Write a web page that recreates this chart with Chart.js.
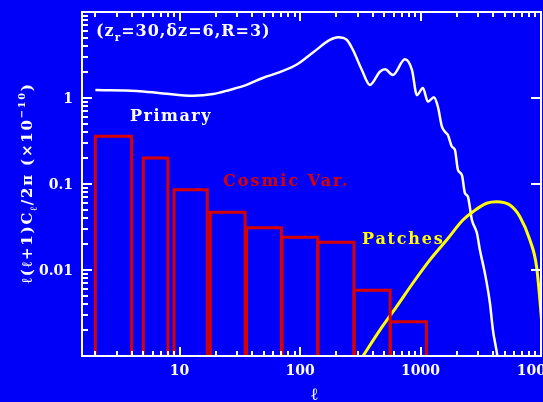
<!DOCTYPE html>
<html>
<head>
<meta charset="utf-8">
<script src="https://cdn.jsdelivr.net/npm/chart.js@4/dist/chart.umd.min.js"></script>
<style>
  html, body { margin: 0; padding: 0; background: #0000fa; }
  #wrap { width: 543px; height: 402px; position: relative; }
</style>
</head>
<body>
<div id="wrap"><canvas id="c" width="543" height="402"></canvas></div>
<script>
// Axis ranges (multipole l, power in units of 1e-10)
const xMin = 1.55, xMax = 10000;
const yMin = 0.001, yMax = 10;

// Tick labels
const xTickVals = [10, 100, 1000, 10000];
const xTickLabels = ['10', '100', '1000', '10000'];
const yTickVals = [1, 0.1, 0.01];
const yTickLabels = ['1', '0.1', '0.01'];

// Cosmic variance boxes: multipole bin edges and box heights
const binLo = [2, 5, 9, 18, 36, 71, 141, 281, 561];
const binHi = [4, 8, 17, 35, 70, 140, 280, 560, 1120];
const binTop = [0.36, 0.20, 0.086, 0.047, 0.031, 0.024, 0.021, 0.0058, 0.0025];

// Primary anisotropy spectrum
const primaryL = [2, 4.4, 7.3, 13, 19, 26, 36, 49, 68, 94, 128, 177, 206, 245, 275, 326, 380, 460, 507, 590, 742, 849, 934, 1047, 1151, 1292, 1394, 1506, 1594, 1688, 1822, 1930, 2045, 2206, 2335, 2474, 2671, 2937, 3111, 3420, 3767, 3990, 4305, 4600];
const primaryV = [1.24, 1.21, 1.13, 1.06, 1.11, 1.24, 1.42, 1.71, 2.0, 2.45, 3.38, 4.73, 5.08, 4.73, 3.61, 2.12, 1.42, 2.02, 2.16, 1.85, 2.82, 2.12, 1.08, 1.31, 0.906, 1.02, 0.792, 0.464, 0.406, 0.371, 0.272, 0.249, 0.146, 0.127, 0.0786, 0.0712, 0.0381, 0.0269, 0.0171, 0.00923, 0.00413, 0.0020, 0.00108, 0.0005];

// Patchy reionization signal
const patchesL = [300, 333, 460, 633, 865, 1197, 1647, 2249, 2722, 3537, 4278, 5518, 6682, 8091, 9190, 10110, 10600];
const patchesV = [0.0008, 0.001, 0.002, 0.00374, 0.00706, 0.0131, 0.0223, 0.0381, 0.0476, 0.0597, 0.0623, 0.057, 0.0417, 0.0223, 0.0109, 0.0026, 0.001];

const BG = '#0000fa';
const RED = '#d80000';
const YELLOW = '#ffff00';
const WHITE = '#ffffff';
const FONT = '"DejaVu Serif", "Liberation Serif", serif';

const boxSets = binLo.map((lo, i) => ({
  data: [
    { x: lo, y: yMin }, { x: lo, y: binTop[i] },
    { x: binHi[i], y: binTop[i] }, { x: binHi[i], y: yMin }
  ],
  borderColor: RED, borderWidth: 3, pointRadius: 0, showLine: true,
  tension: 0, fill: false, borderJoinStyle: 'miter'
}));

const primarySet = {
  data: primaryL.map((l, i) => ({ x: l, y: primaryV[i] })),
  borderColor: WHITE, borderWidth: 2.5, pointRadius: 0, showLine: true,
  cubicInterpolationMode: 'monotone', fill: false
};

const patchesSet = {
  data: patchesL.map((l, i) => ({ x: l, y: patchesV[i] })),
  borderColor: YELLOW, borderWidth: 3, pointRadius: 0, showLine: true,
  cubicInterpolationMode: 'monotone', fill: false
};

// Width of a run of text pieces, with sub/superscripts
function richWidth(ctx, parts, size, spacing) {
  let w = 0;
  for (const p of parts) {
    const s = p.sub || p.sup ? size * 0.65 : size;
    ctx.font = 'bold ' + s + 'px ' + FONT;
    ctx.letterSpacing = spacing + 'px';
    w += ctx.measureText(p.t).width;
  }
  return w;
}
// Draws a run of text pieces starting at (x, y)
function drawRich(ctx, x, y, parts, size, color, spacing) {
  ctx.fillStyle = color;
  ctx.textAlign = 'left';
  ctx.textBaseline = 'alphabetic';
  let cx = x;
  for (const p of parts) {
    const s = p.sub || p.sup ? size * 0.65 : size;
    ctx.font = 'bold ' + s + 'px ' + FONT;
    ctx.letterSpacing = spacing + 'px';
    const dy = p.sub ? size * 0.3 : (p.sup ? -size * 0.45 : 0);
    ctx.fillText(p.t, cx, y + dy);
    cx += ctx.measureText(p.t).width;
  }
  ctx.letterSpacing = '0px';
}

const framePlugin = {
  id: 'frame',
  beforeDraw(chart) {
    const ctx = chart.ctx;
    ctx.save();
    ctx.fillStyle = BG;
    ctx.fillRect(0, 0, chart.width, chart.height);
    ctx.restore();
  },
  afterDraw(chart) {
    const ctx = chart.ctx;
    const a = chart.chartArea;
    const xs = chart.scales.x, ys = chart.scales.y;
    ctx.save();
    ctx.strokeStyle = WHITE;
    ctx.lineWidth = 2;
    ctx.strokeRect(a.left, a.top, a.right - a.left, a.bottom - a.top);

    // inward ticks along bottom and top
    ctx.beginPath();
    for (let d = 0; d <= 4; d++) {
      for (let m = 1; m <= 9; m++) {
        const v = m * Math.pow(10, d);
        if (v < xMin || v > xMax * 1.001) continue;
        const px = Math.round(xs.getPixelForValue(v));
        const len = m === 1 ? 9 : 5;
        ctx.moveTo(px, a.bottom); ctx.lineTo(px, a.bottom - len);
        ctx.moveTo(px, a.top); ctx.lineTo(px, a.top + len);
      }
    }
    // inward ticks along left and right
    for (let d = -3; d <= 1; d++) {
      for (let m = 1; m <= 9; m++) {
        const v = m * Math.pow(10, d);
        if (v < yMin * 0.999 || v > yMax * 1.001) continue;
        const py = Math.round(ys.getPixelForValue(v));
        const len = m === 1 ? 10 : 6;
        ctx.moveTo(a.left, py); ctx.lineTo(a.left + len, py);
        if (m === 1) { ctx.moveTo(a.right, py); ctx.lineTo(a.right - len, py); }
      }
    }
    ctx.stroke();

    // tick labels
    ctx.fillStyle = WHITE;
    ctx.font = 'bold 14px ' + FONT;
    ctx.textAlign = 'center';
    ctx.textBaseline = 'alphabetic';
    xTickVals.forEach((v, i) => {
      ctx.fillText(xTickLabels[i], xs.getPixelForValue(v), a.bottom + 19);
    });
    ctx.textAlign = 'right';
    ctx.textBaseline = 'middle';
    yTickVals.forEach((v, i) => {
      ctx.fillText(yTickLabels[i], a.left - 9, ys.getPixelForValue(v) + 1);
    });

    // axis titles
    ctx.textAlign = 'center';
    ctx.textBaseline = 'alphabetic';
    ctx.font = 'bold 17px ' + FONT;
    ctx.fillText('\u2113', (a.left + a.right) / 2 + 3, chart.height - 2);

    const yTitle = [
      { t: '\u2113(\u2113+1)C' }, { t: '\u2113', sub: true },
      { t: '/2\u03c0 (\u00d710' }, { t: '\u221210', sup: true }, { t: ')' }
    ];
    const w = richWidth(ctx, yTitle, 15, 1.8);
    ctx.translate(32, 183);
    ctx.rotate(-Math.PI / 2);
    drawRich(ctx, -w / 2, 0, yTitle, 15, WHITE, 1.8);
    ctx.restore();

    // annotations inside the frame
    ctx.save();
    drawRich(ctx, 96, 36, [{ t: '(z' }, { t: 'r', sub: true }, { t: '=30,\u03b4z=6,R=3)' }], 16, WHITE, 1);
    drawRich(ctx, 130, 121, [{ t: 'Primary' }], 16, WHITE, 1.5);
    drawRich(ctx, 223, 186, [{ t: 'Cosmic Var.' }], 16, RED, 2);
    drawRich(ctx, 362, 244, [{ t: 'Patches' }], 16, YELLOW, 1.8);
    ctx.restore();
  }
};

new Chart(document.getElementById('c'), {
  type: 'scatter',
  data: { datasets: [...boxSets, patchesSet, primarySet] },
  options: {
    responsive: false,
    animation: false,
    layout: { padding: { left: 82, top: 12, right: 2, bottom: 46 } },
    plugins: { legend: { display: false }, tooltip: { enabled: false } },
    scales: {
      x: { type: 'logarithmic', min: xMin, max: xMax, display: false },
      y: { type: 'logarithmic', min: yMin, max: yMax, display: false }
    }
  },
  plugins: [framePlugin]
});
</script>
</body>
</html>
